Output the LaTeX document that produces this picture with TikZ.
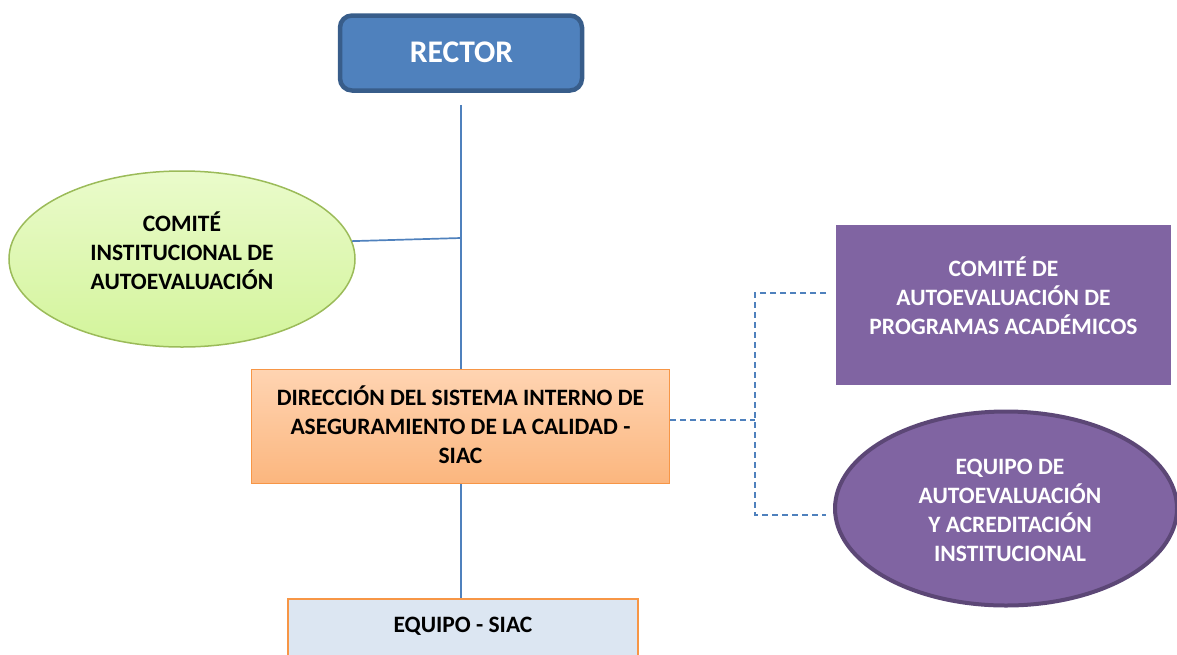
\documentclass[tikz,border=0pt]{standalone}
\usepackage{fontspec}
\setmainfont{Carlito}
\usetikzlibrary{shapes.geometric}
\definecolor{rectfill}{HTML}{4F81BD}
\definecolor{rectdraw}{HTML}{385D8A}
\definecolor{greendraw}{HTML}{9BBB59}
\definecolor{greentop}{HTML}{EAFBCB}
\definecolor{greenbot}{HTML}{D3F49B}
\definecolor{orangedraw}{HTML}{F79646}
\definecolor{orangetop}{HTML}{FFD4B2}
\definecolor{orangebot}{HTML}{FBB67E}
\definecolor{purp}{HTML}{8064A2}
\definecolor{purpdraw}{HTML}{5C4776}
\definecolor{equipofill}{HTML}{DCE6F2}
\definecolor{linkblue}{HTML}{4F81BD}
\tikzset{
  rectorbox/.style={rectangle, rounded corners=12pt, fill=rectfill, draw=rectdraw, line width=4.5pt,
    minimum width=242pt, minimum height=75pt, inner sep=0pt},
  greenell/.style={ellipse, draw=greendraw, line width=1.5pt, top color=greentop, bottom color=greenbot,
    minimum width=346pt, minimum height=176pt, inner sep=0pt},
  orangebox/.style={rectangle, draw=orangedraw, line width=1.5pt, top color=orangetop, bottom color=orangebot,
    minimum width=418pt, minimum height=114pt, inner sep=0pt},
  purpbox/.style={rectangle, fill=purp, minimum width=335pt, minimum height=160pt, inner sep=0pt},
  purpell/.style={ellipse, fill=purp, draw=purpdraw, line width=4pt,
    minimum width=342pt, minimum height=194pt, inner sep=0pt},
  equipobox/.style={rectangle, fill=equipofill, draw=orangedraw, line width=1.5pt,
    minimum width=350pt, minimum height=110pt, inner sep=0pt},
  txt/.style={align=center, font=\fontsize{23.5}{29}\selectfont\bfseries, inner sep=0pt},
  link/.style={draw=linkblue, line width=1.7pt},
  dlink/.style={draw=linkblue, line width=1.6pt, dash pattern=on 6pt off 4pt},
}
\begin{document}
\begin{tikzpicture}[x=1pt,y=-1pt]
\useasboundingbox (0,0) rectangle (1177,654);
\clip (0,0) rectangle (1177,654);
% shapes
\node[rectorbox] (rector) at (461,53) {};
\node[txt, text=white, font=\fontsize{31.5}{36}\selectfont\bfseries] (rectort) at (461.5,52) {RECTOR};
\node[greenell] (cia) at (182,259) {};
\node[txt] (ciat) at (182,251) {COMITÉ\\INSTITUCIONAL DE\\AUTOEVALUACIÓN};
\node[orangebox] (dir) at (460.5,426.5) {};
\node[txt] (dirt) at (460.5,425) {DIRECCIÓN DEL SISTEMA INTERNO DE\\ASEGURAMIENTO DE LA CALIDAD -\\SIAC};
\node[purpbox] (cap) at (1003.5,305) {};
\node[txt, text=white] (capt) at (1003.5,296) {COMITÉ DE\\AUTOEVALUACIÓN DE\\PROGRAMAS ACADÉMICOS};
\node[purpell] (eai) at (1006,508.5) {};
\node[txt, text=white] (eait) at (1010,510) {EQUIPO DE\\AUTOEVALUACIÓN\\Y ACREDITACIÓN\\INSTITUCIONAL};
\node[equipobox] (eq) at (463,654) {};
\node[txt] (eqt) at (463,626) {EQUIPO - SIAC};
% connectors
\coordinate (j) at (461,238);
\draw[link, shorten <=12pt] (rector.south) -- (rector.south |- dir.north);
\draw[link] (cia.6) -- (j);
\draw[link] (rector.south |- dir.south) -- (rector.south |- eq.north);
\coordinate (d0) at (755,420);
\coordinate (d1) at (826,293);
\coordinate (d2) at (826,515);
\draw[dlink] (dir.east |- d0) -- (d0);
\draw[dlink] (d1) -- (d1 -| d0) -- (d2 -| d0) -- (d2);
\end{tikzpicture}
\end{document}
